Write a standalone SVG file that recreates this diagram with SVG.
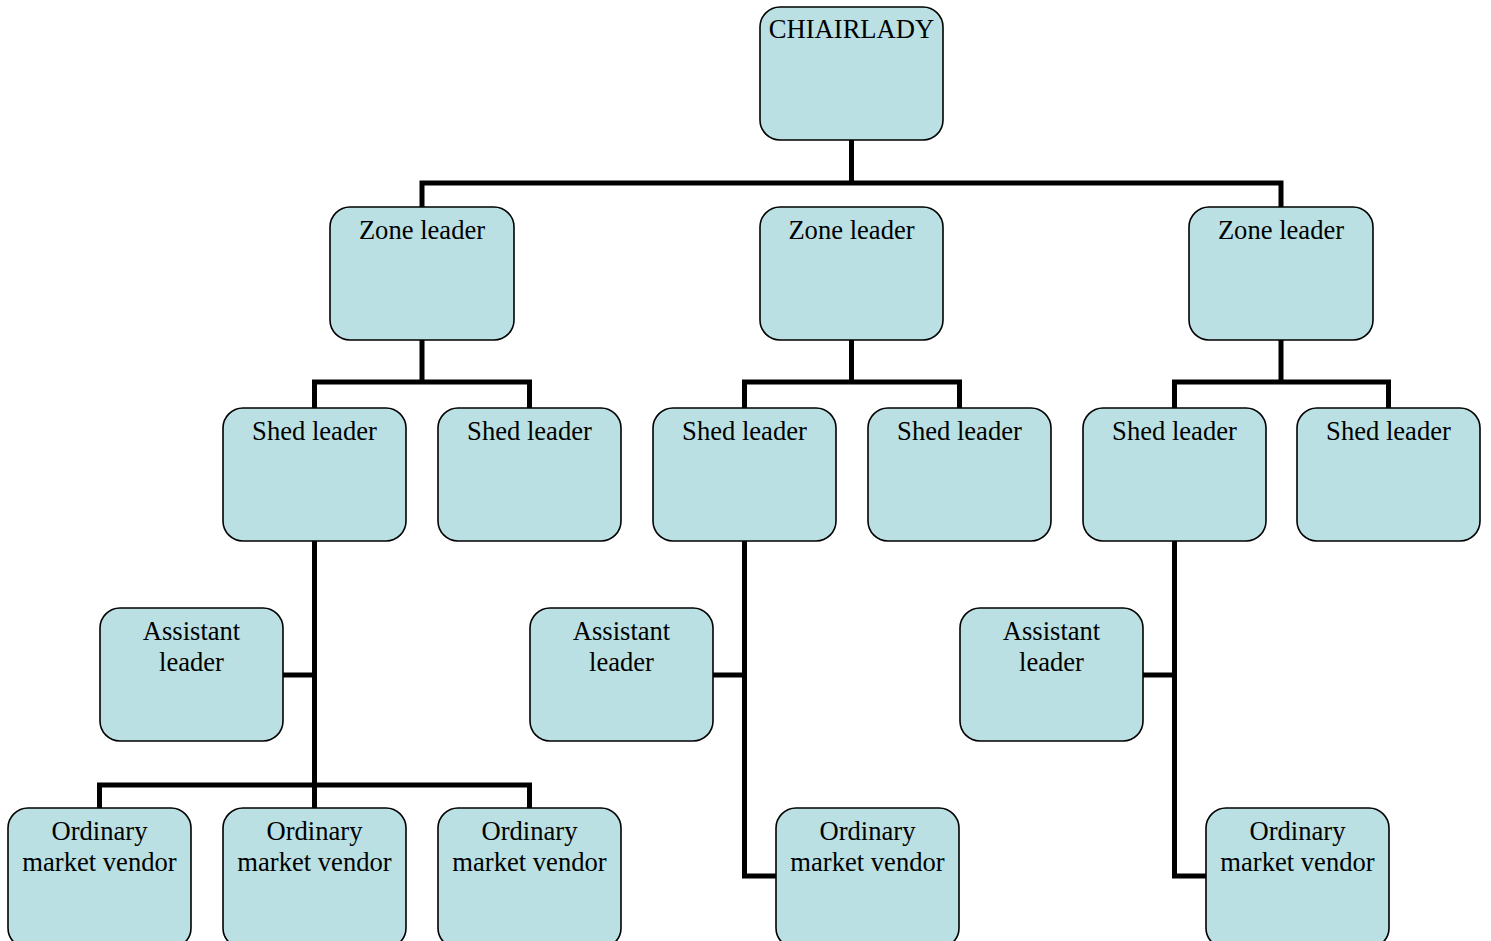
<svg xmlns="http://www.w3.org/2000/svg" width="1491" height="941" viewBox="0 0 1491 941">
<style>
.box{fill:#BAE0E3;stroke:#000;stroke-width:1.6}
.t{font-family:"Liberation Serif","Times New Roman",serif;font-size:26.6px;fill:#000;text-anchor:middle}
.c{fill:none;stroke:#000;stroke-width:5;stroke-linecap:butt;stroke-linejoin:miter}
</style>
<rect width="1491" height="941" fill="#fff"/>
<g id="connectors" class="c">
<path d="M851.5 140V183M422 207V183H1281V207"/>
<path d="M422 340V382M314.5 408V382H529.5V408"/>
<path d="M851.5 340V382M744.5 408V382H959.5V408"/>
<path d="M1281 340V382M1174.5 408V382H1388.5V408"/>
<path d="M314.5 541V808M283 675H314.5M99.5 808V785H529.5V808"/>
<path d="M744.5 541V876H776M713 675H744.5"/>
<path d="M1174.5 541V876H1206M1143 675H1174.5"/>
</g>
<g id="chair"><rect class="box" x="760" y="7" width="183" height="133" rx="20"/><text class="t" x="851.5" y="38">CHIAIRLADY</text></g>
<g id="zone1"><rect class="box" x="330" y="207" width="184" height="133" rx="20"/><text class="t" x="422" y="239">Zone leader</text></g>
<g id="zone2"><rect class="box" x="760" y="207" width="183" height="133" rx="20"/><text class="t" x="851.5" y="239">Zone leader</text></g>
<g id="zone3"><rect class="box" x="1189" y="207" width="184" height="133" rx="20"/><text class="t" x="1281" y="239">Zone leader</text></g>
<g id="shed1"><rect class="box" x="223" y="408" width="183" height="133" rx="20"/><text class="t" x="314.5" y="440">Shed leader</text></g>
<g id="shed2"><rect class="box" x="438" y="408" width="183" height="133" rx="20"/><text class="t" x="529.5" y="440">Shed leader</text></g>
<g id="shed3"><rect class="box" x="653" y="408" width="183" height="133" rx="20"/><text class="t" x="744.5" y="440">Shed leader</text></g>
<g id="shed4"><rect class="box" x="868" y="408" width="183" height="133" rx="20"/><text class="t" x="959.5" y="440">Shed leader</text></g>
<g id="shed5"><rect class="box" x="1083" y="408" width="183" height="133" rx="20"/><text class="t" x="1174.5" y="440">Shed leader</text></g>
<g id="shed6"><rect class="box" x="1297" y="408" width="183" height="133" rx="20"/><text class="t" x="1388.5" y="440">Shed leader</text></g>
<g id="assist1"><rect class="box" x="100" y="608" width="183" height="133" rx="20"/><text class="t" x="191.5" y="640">Assistant</text><text class="t" x="191.5" y="671">leader</text></g>
<g id="assist2"><rect class="box" x="530" y="608" width="183" height="133" rx="20"/><text class="t" x="621.5" y="640">Assistant</text><text class="t" x="621.5" y="671">leader</text></g>
<g id="assist3"><rect class="box" x="960" y="608" width="183" height="133" rx="20"/><text class="t" x="1051.5" y="640">Assistant</text><text class="t" x="1051.5" y="671">leader</text></g>
<g id="vendor1"><rect class="box" x="8" y="808" width="183" height="140" rx="20"/><text class="t" x="99.5" y="840">Ordinary</text><text class="t" x="99.5" y="871">market vendor</text></g>
<g id="vendor2"><rect class="box" x="223" y="808" width="183" height="140" rx="20"/><text class="t" x="314.5" y="840">Ordinary</text><text class="t" x="314.5" y="871">market vendor</text></g>
<g id="vendor3"><rect class="box" x="438" y="808" width="183" height="140" rx="20"/><text class="t" x="529.5" y="840">Ordinary</text><text class="t" x="529.5" y="871">market vendor</text></g>
<g id="vendor4"><rect class="box" x="776" y="808" width="183" height="140" rx="20"/><text class="t" x="867.5" y="840">Ordinary</text><text class="t" x="867.5" y="871">market vendor</text></g>
<g id="vendor5"><rect class="box" x="1206" y="808" width="183" height="140" rx="20"/><text class="t" x="1297.5" y="840">Ordinary</text><text class="t" x="1297.5" y="871">market vendor</text></g>
</svg>
